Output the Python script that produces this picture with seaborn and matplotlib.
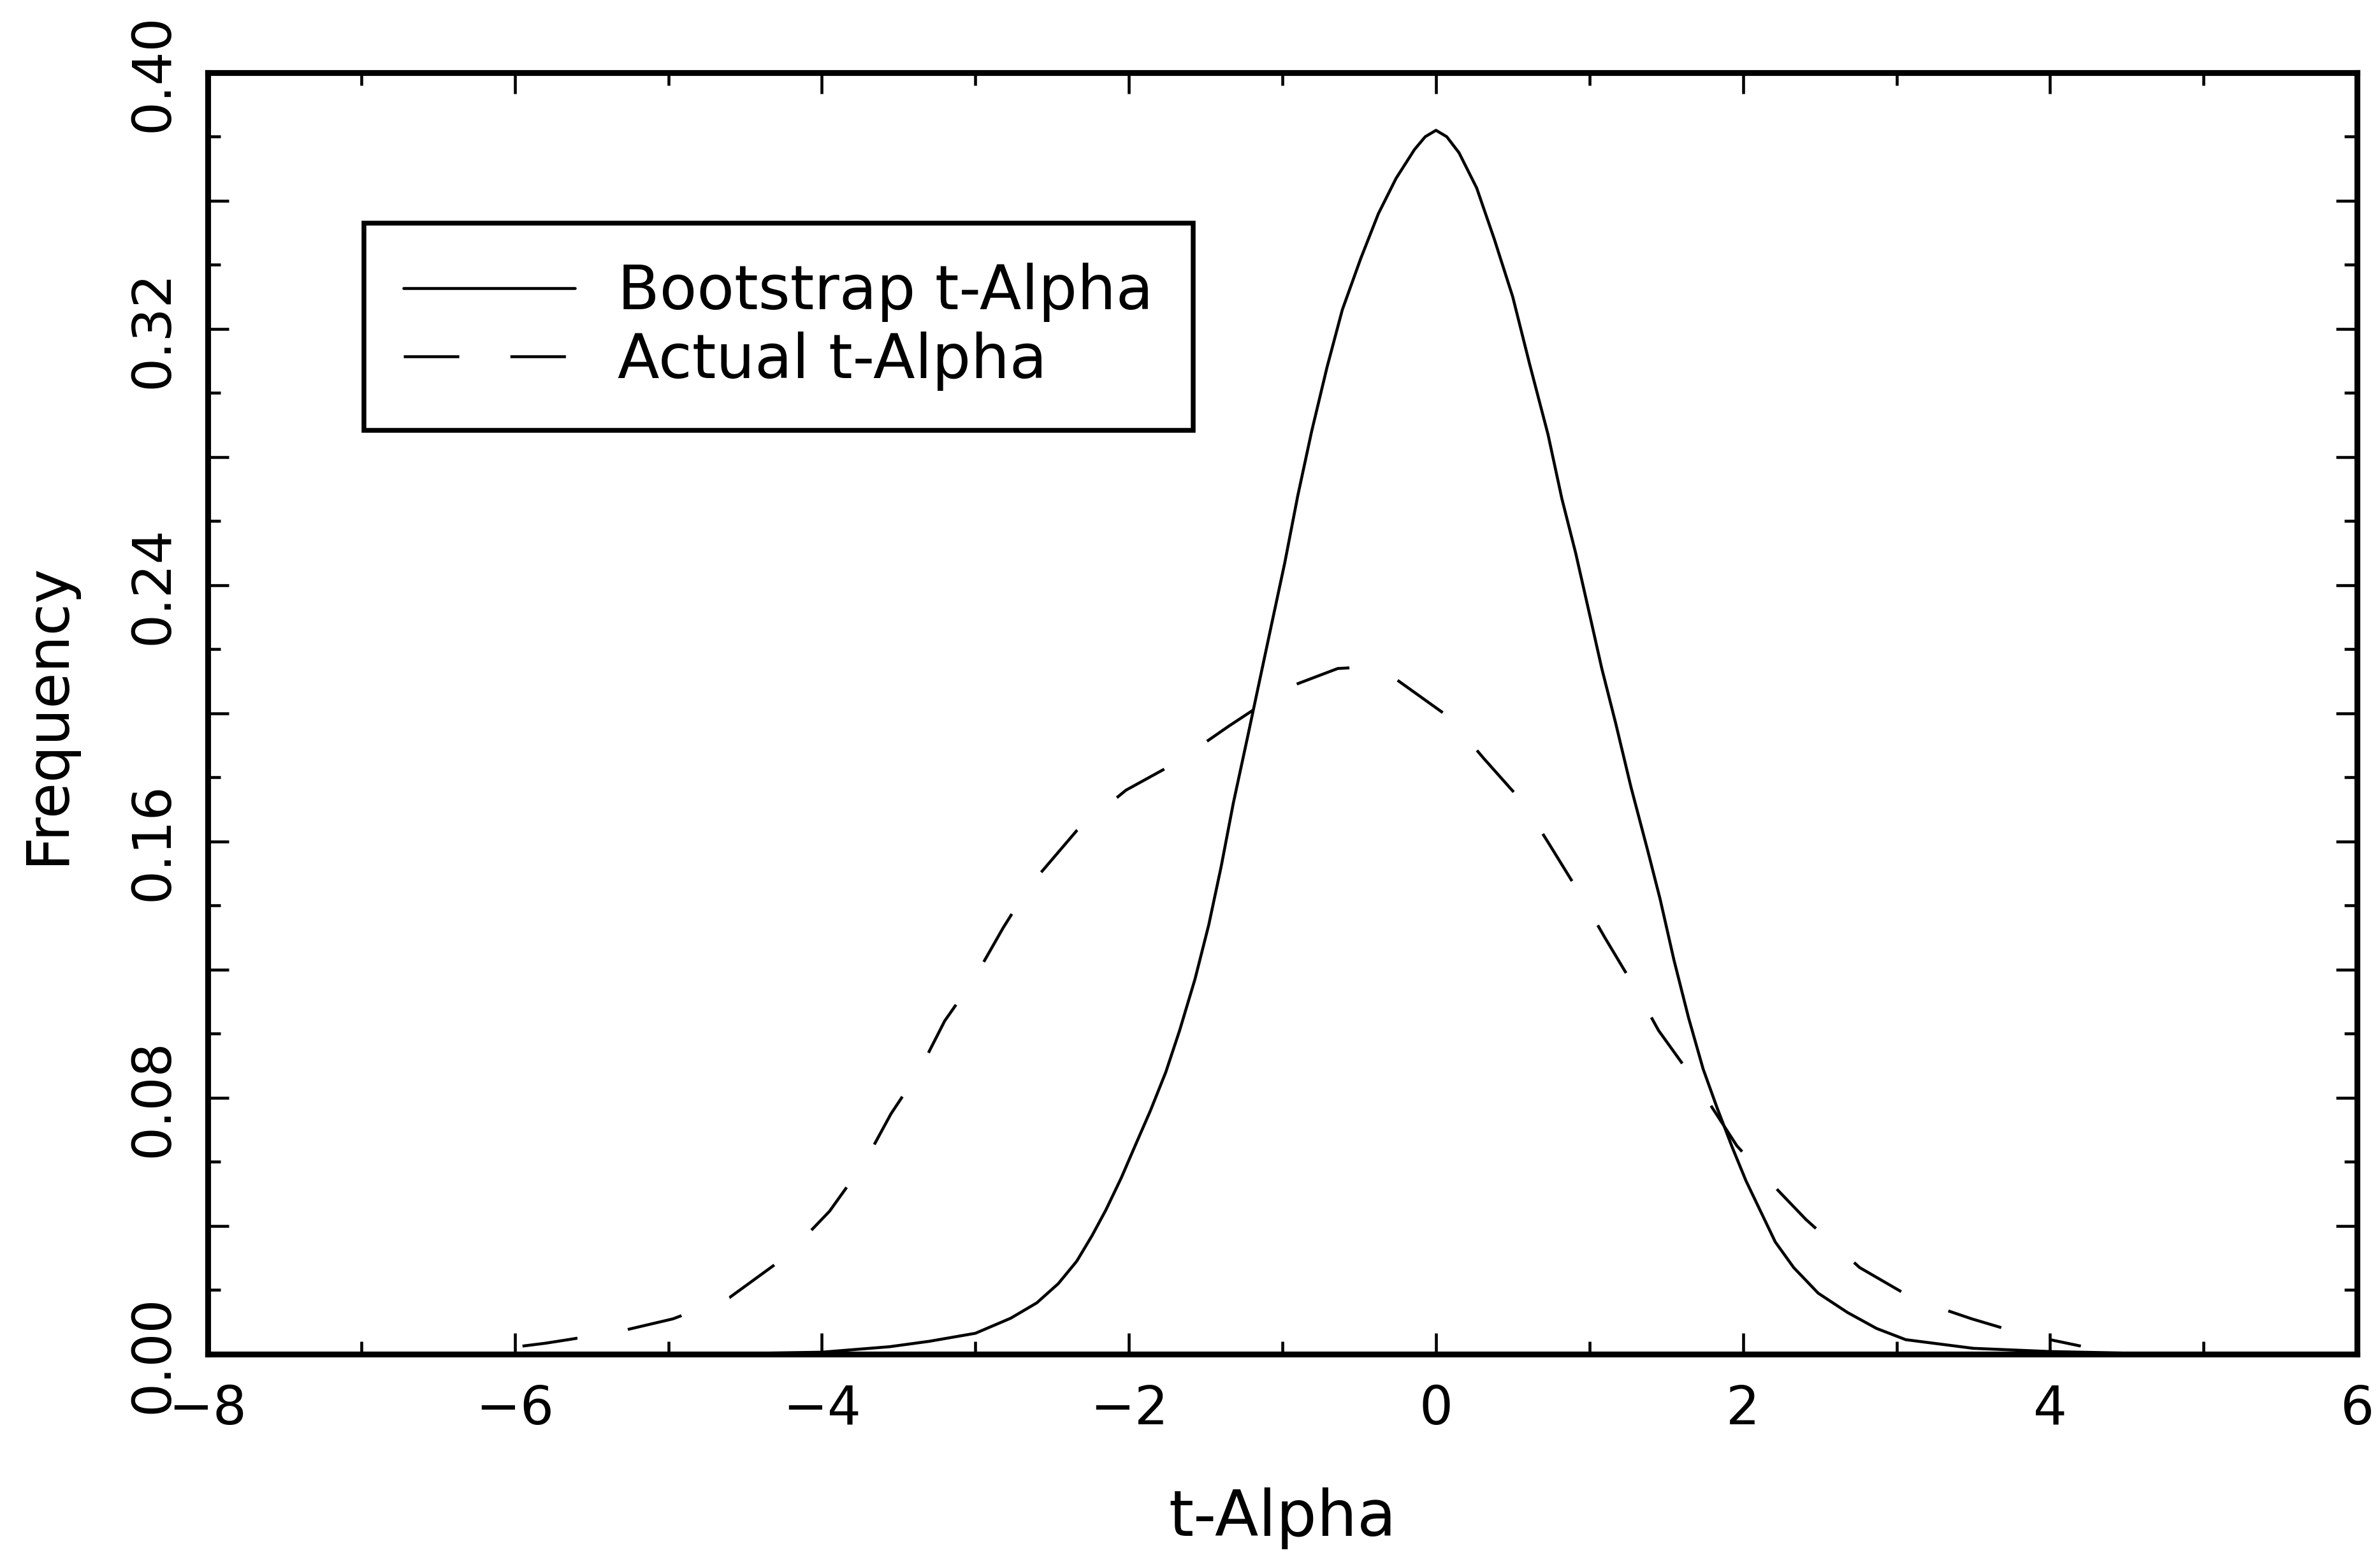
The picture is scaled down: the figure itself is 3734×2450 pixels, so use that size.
import numpy as np
import pandas as pd
import matplotlib
matplotlib.use("Agg")
import matplotlib.pyplot as plt
import seaborn as sns
from matplotlib.ticker import MultipleLocator, FuncFormatter

# ---- data ----
boot_x = [-5.0, -4.5, -4.0, -3.56, -3.3, -3.0, -2.77, -2.6, -2.46, -2.34, -2.24, -2.15,
          -2.05, -1.96, -1.86, -1.76, -1.67, -1.57, -1.48, -1.40, -1.32, -1.23, -1.15,
          -1.07, -0.985, -0.90, -0.81, -0.71, -0.61, -0.49, -0.375, -0.26, -0.14, -0.07,
          0.0, 0.07, 0.15, 0.265, 0.38, 0.50, 0.61, 0.73, 0.82, 0.91, 1.0, 1.08, 1.17,
          1.27, 1.38, 1.46, 1.55, 1.645, 1.74, 1.83, 1.93, 2.02, 2.12, 2.21, 2.33, 2.49,
          2.68, 2.87, 3.06, 3.5, 4.0, 4.5, 5.0]
boot_y = [0.0, 0.0002, 0.0006, 0.0023, 0.004, 0.0065, 0.0112, 0.016, 0.022, 0.029, 0.037, 0.045,
          0.055, 0.065, 0.076, 0.088, 0.101, 0.117, 0.134, 0.152, 0.172, 0.192, 0.210,
          0.228, 0.247, 0.268, 0.288, 0.308, 0.326, 0.342, 0.356, 0.367, 0.376, 0.380,
          0.382, 0.380, 0.375, 0.364, 0.348, 0.330, 0.309, 0.287, 0.267, 0.250, 0.231, 0.214, 0.197,
          0.177, 0.157, 0.142, 0.123, 0.105, 0.089, 0.077, 0.0645, 0.054, 0.044, 0.035, 0.027, 0.019,
          0.013, 0.008, 0.0045, 0.0018, 0.0008, 0.0003, 0.0]

act_x = [-5.95, -5.8, -5.64, -5.29, -4.97, -4.6, -4.23, -3.95, -3.72, -3.55, -3.37, -3.2,
         -3.01, -2.82, -2.65, -2.34, -2.02, -1.69, -1.35, -0.97, -0.64, -0.45, -0.27, 0.08,
         0.31, 0.57, 0.74, 0.92, 1.10, 1.30, 1.45, 1.69, 1.96, 2.15, 2.41, 2.76, 3.12,
         3.49, 3.82, 4.0, 4.2]
act_y = [0.0025, 0.0034, 0.0046, 0.0074, 0.011, 0.0177, 0.0306, 0.0446, 0.060, 0.075, 0.088, 0.104,
         0.117, 0.133, 0.146, 0.1634, 0.176, 0.1847, 0.196, 0.208, 0.214, 0.2145, 0.211, 0.199,
         0.186, 0.172, 0.159, 0.145, 0.130, 0.114, 0.101, 0.085, 0.065, 0.055, 0.042, 0.027, 0.017,
         0.011, 0.0063, 0.0045, 0.0025]

series_labels = ["Bootstrap t-Alpha", "Actual t-Alpha"]
x_label = "t-Alpha"
y_label = "Frequency"

# ---- style ----
sns.set_theme(style="ticks")
plt.rcParams["font.family"] = ["DejaVu Sans"]
plt.rcParams["axes.unicode_minus"] = True
for k in ["text.color", "axes.labelcolor", "xtick.color", "ytick.color", "axes.edgecolor"]:
    plt.rcParams[k] = "black"

fig = plt.figure(figsize=(3734 / 300, 2450 / 300), dpi=300, facecolor="white")
ax = fig.add_axes([0.0873, 0.1331, 0.9031, 0.8204])
ax.set_facecolor("white")

df_boot = pd.DataFrame({"x": boot_x, "y": boot_y})
df_act = pd.DataFrame({"x": act_x, "y": act_y})

sns.lineplot(data=df_boot, x="x", y="y", ax=ax, color="black", linewidth=1.1,
             estimator=None, sort=False, label=series_labels[0])
sns.lineplot(data=df_act, x="x", y="y", ax=ax, color="black", linewidth=1.1,
             estimator=None, sort=False, linestyle=(0, (19, 17.5)), label=series_labels[1])
for ln in ax.get_lines():
    ln.set_solid_joinstyle("round")
    ln.set_dash_joinstyle("round")

ax.set_xlim(-8, 6)
ax.set_ylim(0, 0.40)

ax.xaxis.set_major_locator(MultipleLocator(2))
ax.xaxis.set_minor_locator(MultipleLocator(1))
ax.yaxis.set_major_locator(MultipleLocator(0.04))
ax.yaxis.set_minor_locator(MultipleLocator(0.02))


def yfmt(v, p):
    k = v / 0.08
    if abs(k - round(k)) < 1e-6:
        return f"{v:.2f}"
    return ""


ax.yaxis.set_major_formatter(FuncFormatter(yfmt))

ax.tick_params(axis="both", which="both", direction="in", top=True, right=True,
               colors="black", width=1.1)
ax.tick_params(axis="both", which="major", length=8, labelsize=20, pad=11)
ax.tick_params(axis="both", which="minor", length=4.8)
for lab in ax.get_yticklabels():
    lab.set_rotation(90)
    lab.set_va("center")

for s in ax.spines.values():
    s.set_linewidth(2.2)
    s.set_color("black")

ax.set_xlabel(x_label, fontsize=24, color="black")
ax.set_ylabel(y_label, fontsize=22, color="black")
ax.xaxis.set_label_coords(0.5, -0.104)
ax.yaxis.set_label_coords(-0.0614, 0.5)

leg = ax.legend(loc="upper left", bbox_to_anchor=(0.0727, 0.8826), borderaxespad=0,
                fontsize=23, frameon=True, fancybox=False, framealpha=1,
                edgecolor="black", handlelength=2.8, handletextpad=0.7,
                borderpad=0.65, labelspacing=0.15)
leg.get_frame().set_linewidth(1.8)
for t in leg.get_texts():
    t.set_color("black")

fig.savefig("out.png", dpi=300, facecolor="white")
